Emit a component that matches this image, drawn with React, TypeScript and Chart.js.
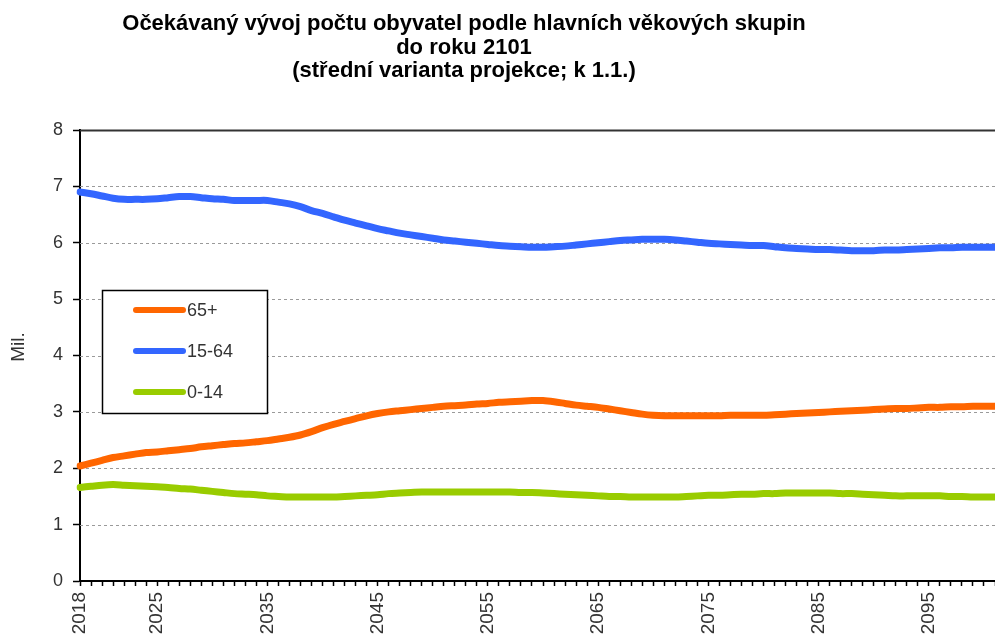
import React, { useEffect, useRef } from "react";
import { Chart, registerables } from "chart.js";

Chart.register(...registerables);

const TITLE_LINES = [
  "Očekávaný vývoj počtu obyvatel podle hlavních věkových skupin",
  "do roku 2101",
  "(střední varianta projekce; k 1.1.)",
];

const FIRST_YEAR = 2018;
const LAST_YEAR = 2101;
const YEARS: string[] = [];
for (let y = FIRST_YEAR; y <= LAST_YEAR; y++) YEARS.push(String(y));

const TICK_LABELS = ["2018", "2025", "2035", "2045", "2055", "2065", "2075", "2085", "2095"];

const Y_TICKS = [0, 1, 2, 3, 4, 5, 6, 7, 8];

// 65+ (millions)
const AGE_65_PLUS = [
  2.04, 2.09, 2.14, 2.19, 2.22, 2.25, 2.28, 2.29, 2.31, 2.33,
  2.35, 2.38, 2.40, 2.42, 2.44, 2.45, 2.47, 2.49, 2.52, 2.55,
  2.59, 2.65, 2.72, 2.78, 2.83, 2.88, 2.93, 2.97, 3.00, 3.02,
  3.04, 3.06, 3.08, 3.10, 3.11, 3.12, 3.14, 3.15, 3.17, 3.18,
  3.19, 3.20, 3.20, 3.18, 3.15, 3.12, 3.10, 3.08, 3.05, 3.02,
  2.99, 2.96, 2.94, 2.93, 2.93, 2.93, 2.93, 2.93, 2.93, 2.94,
  2.94, 2.94, 2.94, 2.95, 2.96, 2.97, 2.98, 2.99, 3.00, 3.01,
  3.02, 3.03, 3.04, 3.05, 3.06, 3.06, 3.07, 3.08, 3.08, 3.09,
  3.09, 3.10, 3.10, 3.10,
];

// 15-64 (millions)
const AGE_15_64 = [
  6.90, 6.87, 6.83, 6.79, 6.77, 6.77, 6.77, 6.78, 6.80, 6.82,
  6.82, 6.80, 6.78, 6.77, 6.75, 6.75, 6.75, 6.75, 6.72, 6.69,
  6.64, 6.57, 6.52, 6.46, 6.40, 6.35, 6.30, 6.25, 6.21, 6.17,
  6.14, 6.11, 6.08, 6.05, 6.03, 6.01, 5.99, 5.97, 5.95, 5.94,
  5.93, 5.92, 5.92, 5.93, 5.94, 5.96, 5.98, 6.00, 6.02, 6.04,
  6.05, 6.06, 6.06, 6.06, 6.05, 6.03, 6.01, 5.99, 5.98, 5.97,
  5.96, 5.95, 5.95, 5.93, 5.91, 5.90, 5.89, 5.88, 5.88, 5.87,
  5.86, 5.86, 5.86, 5.87, 5.87, 5.88, 5.89, 5.90, 5.91, 5.91,
  5.92, 5.92, 5.92, 5.92,
];

// 0-14 (millions)
const AGE_0_14 = [
  1.66, 1.68, 1.70, 1.71, 1.70, 1.69, 1.68, 1.67, 1.66, 1.64,
  1.63, 1.61, 1.59, 1.57, 1.55, 1.54, 1.53, 1.51, 1.50, 1.49,
  1.49, 1.49, 1.49, 1.49, 1.50, 1.51, 1.52, 1.53, 1.55, 1.56,
  1.57, 1.58, 1.58, 1.58, 1.58, 1.58, 1.58, 1.58, 1.58, 1.58,
  1.57, 1.57, 1.56, 1.55, 1.54, 1.53, 1.52, 1.51, 1.50, 1.50,
  1.49, 1.49, 1.49, 1.49, 1.49, 1.50, 1.51, 1.52, 1.52, 1.53,
  1.54, 1.54, 1.55, 1.55, 1.56, 1.56, 1.56, 1.56, 1.56, 1.55,
  1.55, 1.54, 1.53, 1.52, 1.51, 1.51, 1.51, 1.51, 1.51, 1.50,
  1.50, 1.49, 1.49, 1.49,
];

const SERIES_NAMES = ["65+", "15-64", "0-14"];
const SERIES_COLORS = ["#FF6600", "#3366FF", "#99CC00"];
const Y_AXIS_TITLE = "Mil.";

const FONT = '"Liberation Sans", Arial, sans-serif';

const decorPlugin = {
  id: "decor",
  beforeDatasetsDraw(chart: any) {
    const { ctx, chartArea } = chart;
    const ys = chart.scales.y;
    ctx.save();
    for (const v of Y_TICKS) {
      if (v === 0) continue;
      const py = Math.round(ys.getPixelForValue(v)) + 0.5;
      ctx.beginPath();
      if (v === 8) {
        ctx.setLineDash([]);
        ctx.strokeStyle = "#333333";
        ctx.lineWidth = 2;
      } else {
        ctx.setLineDash([3, 3]);
        ctx.strokeStyle = "#9a9a9a";
        ctx.lineWidth = 1;
      }
      ctx.moveTo(chartArea.left, py);
      ctx.lineTo(chartArea.right, py);
      ctx.stroke();
    }
    ctx.restore();
  },
  afterDraw(chart: any) {
    const { ctx } = chart;
    ctx.save();
    // title
    ctx.fillStyle = "#000";
    ctx.textAlign = "center";
    ctx.textBaseline = "alphabetic";
    ctx.font = `bold 22px ${FONT}`;
    const baselines = [30, 53.5, 77];
    TITLE_LINES.forEach((t, i) => ctx.fillText(t, 464, baselines[i]));

    // y axis title
    ctx.save();
    ctx.translate(19, 347);
    ctx.rotate(-Math.PI / 2);
    ctx.font = `19px ${FONT}`;
    ctx.fillStyle = "#333";
    ctx.textAlign = "center";
    ctx.textBaseline = "middle";
    ctx.fillText(Y_AXIS_TITLE, 0, 0);
    ctx.restore();

    // legend
    const bx = 102, by = 290, bw = 165, bh = 123;
    ctx.fillStyle = "#fff";
    ctx.fillRect(bx, by, bw, bh);
    ctx.strokeStyle = "#000";
    ctx.lineWidth = 1.5;
    ctx.setLineDash([]);
    ctx.strokeRect(bx + 0.5, by + 0.5, bw, bh);
    const rows = [310, 351, 392];
    ctx.font = `18px ${FONT}`;
    ctx.textAlign = "left";
    ctx.textBaseline = "middle";
    SERIES_NAMES.forEach((name, i) => {
      ctx.beginPath();
      ctx.strokeStyle = SERIES_COLORS[i];
      ctx.lineWidth = 6;
      ctx.lineCap = "round";
      ctx.moveTo(136, rows[i]);
      ctx.lineTo(183, rows[i]);
      ctx.stroke();
      ctx.fillStyle = "#333";
      ctx.fillText(name, 187, rows[i] + 1);
    });
    ctx.restore();
  },
};

export default function App() {
  const ref = useRef<HTMLCanvasElement | null>(null);

  useEffect(() => {
    document.body.style.margin = "0";
    const canvas = ref.current;
    if (!canvas) return;
    const seriesData = [AGE_65_PLUS, AGE_15_64, AGE_0_14];
    const chart = new Chart(canvas, {
      type: "line",
      data: {
        labels: YEARS,
        datasets: SERIES_NAMES.map((name, i) => ({
          label: name,
          data: seriesData[i],
          borderColor: SERIES_COLORS[i],
          backgroundColor: SERIES_COLORS[i],
          borderWidth: 7,
          pointRadius: 0,
          tension: 0.3,
          borderCapStyle: "round",
          borderJoinStyle: "round",
          fill: false,
        })),
      },
      options: {
        animation: false,
        responsive: true,
        maintainAspectRatio: false,
        layout: { padding: { top: 130, left: 0, right: 0, bottom: 0 } },
        plugins: {
          legend: { display: false },
          title: { display: false },
          tooltip: { enabled: false },
        },
        scales: {
          x: {
            type: "category",
            offset: false,
            grid: {
              drawOnChartArea: false,
              drawTicks: true,
              tickLength: 5,
              tickColor: "#000",
              tickWidth: 1.5,
            },
            border: { display: true, color: "#000", width: 2 },
            ticks: {
              autoSkip: false,
              maxRotation: 90,
              minRotation: 90,
              padding: 6,
              color: "#333",
              font: { family: FONT, size: 19 },
              callback: (_v: any, index: number) =>
                TICK_LABELS.includes(YEARS[index]) ? YEARS[index] : "",
            },
            afterFit: (scale: any) => {
              scale.height = 58;
              scale.paddingLeft = 0;
              scale.paddingRight = 0;
            },
          },
          y: {
            min: 0,
            max: 8,
            grid: {
              drawOnChartArea: false,
              drawTicks: true,
              tickLength: 7,
              tickColor: "#000",
              tickWidth: 1.5,
            },
            border: { display: true, color: "#000", width: 2 },
            ticks: {
              stepSize: 1,
              padding: 10,
              color: "#333",
              font: { family: FONT, size: 18 },
            },
            afterFit: (scale: any) => {
              scale.width = 80;
            },
          },
        },
      },
      plugins: [decorPlugin],
    });
    return () => chart.destroy();
  }, []);

  return (
    <div style={{ width: 995, height: 639, position: "relative" }}>
      <canvas ref={ref} />
    </div>
  );
}
